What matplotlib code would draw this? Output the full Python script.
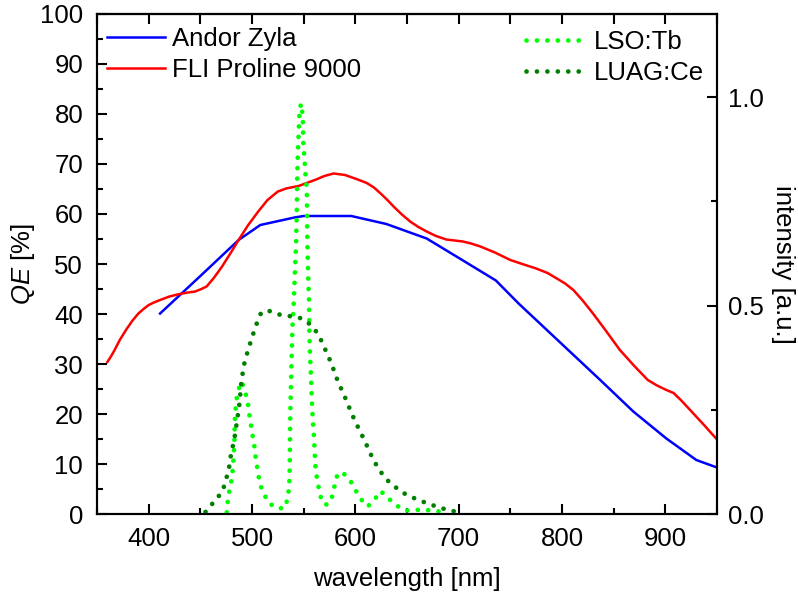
import numpy as np
import matplotlib
matplotlib.use('Agg')
import matplotlib.pyplot as plt

plt.rcParams['font.family'] = ['Liberation Sans', 'DejaVu Sans']
plt.rcParams['font.size'] = 18.5
plt.rcParams['mathtext.fontset'] = 'custom'
plt.rcParams['mathtext.it'] = 'Liberation Sans:italic'
plt.rcParams['mathtext.rm'] = 'Liberation Sans'

# QE curves of the cameras (left axis, %)
andor_wl = [411, 450, 487, 508, 541, 550, 596, 630, 669, 701, 736, 758, 806, 837, 869, 901, 930, 950]
andor_qe = [40.1, 47.6, 54.8, 57.8, 59.3, 59.6, 59.6, 58.0, 55.1, 51.1, 46.7, 42.1, 32.8, 26.8, 20.5, 15.1, 10.8, 9.3]

fli_wl = [360, 364, 367, 372, 378, 384, 390, 395, 400, 405, 411, 420, 430, 438, 445, 451, 456, 463, 471, 479,
          487, 496, 506, 515, 525, 533, 540, 545, 553, 562, 570, 579, 590, 601, 611, 618, 625, 631, 637, 645,
          653, 661, 669, 678, 688, 696, 704, 712, 721, 735, 750, 763, 775, 786, 795, 803, 811, 820, 830, 843,
          856, 870, 883, 892, 901, 908, 915, 924, 937, 950]
fli_qe = [30.4, 31.7, 32.8, 34.8, 36.8, 38.6, 40.1, 41.0, 41.8, 42.3, 42.8, 43.5, 44.0, 44.3, 44.5, 45.0, 45.5,
          47.2, 49.5, 52.1, 54.8, 57.7, 60.5, 62.8, 64.5, 65.1, 65.4, 65.6, 66.2, 66.9, 67.6, 68.1, 67.8, 67.0,
          66.2, 65.3, 64.0, 62.8, 61.5, 59.9, 58.5, 57.4, 56.5, 55.6, 54.9, 54.7, 54.5, 54.1, 53.5, 52.3, 50.8,
          49.9, 49.1, 48.2, 47.1, 46.1, 44.8, 42.7, 40.1, 36.5, 32.8, 29.6, 26.8, 25.7, 24.8, 24.2, 22.8, 20.8,
          17.9, 14.9]

# scintillator emission spectra (right axis, a.u.)
lso_wl = [475.5, 476.5, 478, 480, 481.3, 482, 482.6, 483, 483.2, 483.5, 484.2, 485.2, 487.4, 490, 493.2,
          495.8, 497, 498.7, 500, 502, 503, 504.5, 506, 507.7, 511.3, 516, 524.5, 532, 534.5, 536, 536.5,
          537, 539, 540.5, 541.6, 542.6, 543.2, 543.8, 544.3, 544.8, 545.2, 545.5, 546, 547.5, 549, 549.3,
          549.7, 550.6, 551.3, 552, 553, 553.2, 553.5, 554, 554.5, 555.2, 555.5, 556.1, 557, 557.8, 558.7,
          560, 561, 561.6, 563.2, 565.1, 567.5, 571, 575.5, 578.7, 580.3, 583, 586, 588.4, 595.5, 600.7,
          606, 612, 618.4, 624.5, 631, 638.4, 648, 657.7, 668, 678, 688.4]
lso_int = [0.004, 0.03, 0.055, 0.08, 0.106, 0.13, 0.154, 0.179, 0.206, 0.23, 0.254, 0.278, 0.302, 0.318, 0.294,
           0.27, 0.244, 0.219, 0.195, 0.17, 0.144, 0.12, 0.096, 0.071, 0.049, 0.027, 0.013, 0.015, 0.039, 0.066, 0.115,
           0.242, 0.442, 0.514, 0.59, 0.642, 0.714, 0.818, 0.866, 0.894, 0.918, 0.942, 0.968, 0.985, 0.958, 0.933,
           0.882, 0.858, 0.833, 0.805, 0.78, 0.73, 0.658, 0.606, 0.558, 0.506, 0.434, 0.382, 0.33, 0.278, 0.23,
           0.182, 0.13, 0.106, 0.08, 0.056, 0.031, 0.022, 0.027, 0.051, 0.075, 0.097, 0.10, 0.098, 0.078, 0.055,
           0.034, 0.018, 0.034, 0.055, 0.04, 0.023, 0.008, 0.01, 0.01, 0.007, 0.004]

luag_wl = [455, 461, 467, 472, 475, 477.7, 479, 481, 483, 484.5, 486, 487.5, 488.5, 489, 490.5, 491.5, 494,
           497, 500, 503, 505.5, 509, 516, 524, 532, 540, 547, 554, 561, 566, 569, 573, 576.5, 580, 583.5,
           588, 592, 596, 600, 604.5, 609, 613, 617, 621, 626, 631, 638, 646, 656, 666, 675, 685, 694, 705]
luag_int = [0.005, 0.023, 0.040, 0.059, 0.084, 0.110, 0.134, 0.158, 0.182, 0.207, 0.232, 0.258, 0.282, 0.304,
            0.328, 0.351, 0.375, 0.400, 0.424, 0.446, 0.464, 0.484, 0.488, 0.480, 0.476, 0.474, 0.470, 0.460,
            0.442, 0.422, 0.404, 0.384, 0.362, 0.340, 0.315, 0.292, 0.268, 0.244, 0.221, 0.199, 0.176, 0.154,
            0.132, 0.115, 0.096, 0.081, 0.066, 0.051, 0.039, 0.029, 0.021, 0.013, 0.007, 0.005]


def main():
    fig = plt.figure(figsize=(7.98, 6.0), dpi=100)
    ax = fig.add_axes([0.1216, 0.1433, 0.7769, 0.8334])
    ax2 = ax.twinx()

    ax.plot(andor_wl, andor_qe, color='#0000FF', lw=1.8, label='Andor Zyla')
    ax.plot(fli_wl, fli_qe, color='#FF0000', lw=1.8, label='FLI Proline 9000')

    dots = (0, (0.01, 2.2))
    ax2.plot(lso_wl, lso_int, color='#00FF00', lw=3.4, ls=dots, dash_capstyle='round', label='LSO:Tb')
    ax2.plot(luag_wl, luag_int, color='#007F00', lw=3.4, ls=dots, dash_capstyle='round', label='LUAG:Ce')

    ax.set_xlim(350, 950)
    ax.set_ylim(0, 100)
    ax2.set_ylim(0, 1.2)

    ax.set_xticks(np.arange(400, 901, 100))
    ax.set_xticks(np.arange(350, 951, 50), minor=True)
    ax.set_yticks(np.arange(0, 101, 10))
    ax.set_yticks(np.arange(0, 101, 5), minor=True)
    ax2.set_yticks([0.0, 0.5, 1.0])
    ax2.set_yticklabels(['0.0', '0.5', '1.0'])
    ax2.set_yticks(np.arange(0, 1.21, 0.25), minor=True)

    for a in (ax, ax2):
        for s in a.spines.values():
            s.set_linewidth(1.5)
    ax.tick_params(which='both', direction='in', width=1.5, top=False, right=False)
    ax.tick_params(which='major', length=7.2, pad=10)
    ax.tick_params(which='minor', length=4.3)
    ax.tick_params(axis='x', which='major', pad=9)
    ax2.tick_params(which='both', direction='in', width=1.5)
    ax2.tick_params(which='major', length=7.2, pad=8)
    ax2.tick_params(which='minor', length=4.3)

    top = ax.secondary_xaxis('top')
    top.set_xticks(np.arange(350, 951, 50))
    top.tick_params(direction='in', length=7.2, width=1.5, labeltop=False)
    top.spines['top'].set_linewidth(1.5)

    ax.set_xlabel('wavelength [nm]', labelpad=12)
    ax.set_ylabel('$QE$ [%]', labelpad=2)
    ax2.set_ylabel('intensity [a.u.]', rotation=270, labelpad=22)

    ax.legend(loc='upper left', bbox_to_anchor=(0.016, 0.974), borderaxespad=0, borderpad=0,
              handlelength=2.25, handletextpad=0.3, labelspacing=0.27, frameon=False)
    ax2.legend(loc='upper right', bbox_to_anchor=(0.979, 0.968), borderaxespad=0, borderpad=0,
               handlelength=2.25, handletextpad=0.4, labelspacing=0.27, frameon=False)

    fig.savefig('out.png', dpi=100)


if __name__ == '__main__':
    main()
